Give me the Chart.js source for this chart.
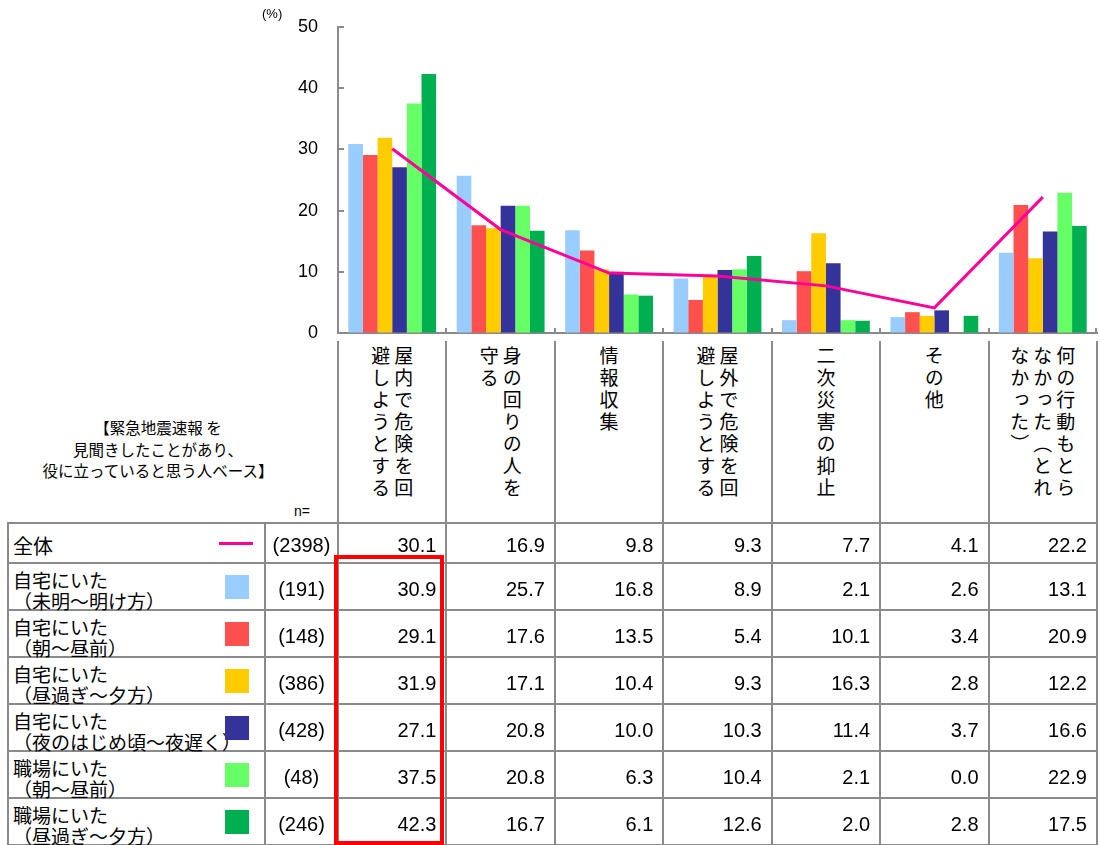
<!DOCTYPE html>
<html><head><meta charset="utf-8">
<script src="https://cdn.jsdelivr.net/npm/chart.js@4.4.0/dist/chart.umd.min.js"></script>
<style>
html,body{margin:0;padding:0;background:#fff;}
body{width:1100px;height:845px;position:relative;overflow:hidden;font-family:"Noto Sans CJK JP",sans-serif;color:#000;}
#wrap{position:absolute;left:0;top:0;width:1100px;height:345px;}
.ln{position:absolute;background:#8a8a8a;}
.vlab{position:absolute;writing-mode:vertical-rl;font-size:19px;line-height:23px;letter-spacing:3px;white-space:nowrap;transform:translateX(-50%);}
.num{position:absolute;font-family:"Liberation Sans",Arial,sans-serif;font-size:20px;line-height:24px;}
.rlab{position:absolute;left:13px;font-size:19px;line-height:21px;white-space:nowrap;}
</style></head><body>
<div id="wrap"><canvas id="c" width="1100" height="345"></canvas></div>
<div id="tbl"></div>
<script>
// ---- data ----
const categories = ['屋内で危険を回避しようとする','身の回りの人を守る','情報収集','屋外で危険を回避しようとする','二次災害の抑止','その他','何の行動もとらなかった（とれなかった）'];
const totalLabel = '全体';
const totalN = 2398;
const totalValues = [30.1,16.9,9.8,9.3,7.7,4.1,22.2];
const seriesLabels = ['自宅にいた（未明～明け方）','自宅にいた（朝～昼前）','自宅にいた（昼過ぎ～夕方）','自宅にいた（夜のはじめ頃～夜遅く）','職場にいた（朝～昼前）','職場にいた（昼過ぎ～夕方）'];
const seriesN = [191,148,386,428,48,246];
const s1 = [30.9,25.7,16.8,8.9,2.1,2.6,13.1];
const s2 = [29.1,17.6,13.5,5.4,10.1,3.4,20.9];
const s3 = [31.9,17.1,10.4,9.3,16.3,2.8,12.2];
const s4 = [27.1,20.8,10.0,10.3,11.4,3.7,16.6];
const s5 = [37.5,20.8,6.3,10.4,2.1,0.0,22.9];
const s6 = [42.3,16.7,6.1,12.6,2.0,2.8,17.5];
const seriesValues = [s1,s2,s3,s4,s5,s6];
const yTicks = [0,10,20,30,40,50];
const headerNote = ['【緊急地震速報 を','見聞きしたことがあり、','役に立っていると思う人ベース】'];

// ---- styles ----
const seriesColors = ['#99CCFF','#FF5050','#FFCC00','#333399','#66FF66','#00B050'];
const lineColor = '#FF0099';
const gray = '#8a8a8a';
const targetTop = 27, targetBottom = 333;

const innerTicks = {
  id:'innerTicks',
  afterDraw(chart){
    const {ctx, chartArea:a, scales:{x,y}} = chart;
    ctx.save(); ctx.strokeStyle=gray; ctx.lineWidth=2; ctx.beginPath();
    yTicks.forEach(v=>{const py=Math.round(y.getPixelForValue(v)); ctx.moveTo(a.left,py); ctx.lineTo(a.left+6,py);});
    const n=categories.length;
    for(let i=1;i<=n;i++){
      const px = i<n ? (x.getPixelForValue(i-1)+x.getPixelForValue(i))/2 : a.right-1;
      ctx.moveTo(Math.round(px),a.bottom); ctx.lineTo(Math.round(px),a.bottom-5);
    }
    ctx.stroke(); ctx.restore();
  }
};

const datasets = [{type:'line',label:totalLabel,data:totalValues,borderColor:lineColor,borderWidth:3,pointRadius:0,fill:false,tension:0}];
seriesLabels.forEach((l,i)=>datasets.push({type:'bar',label:l,data:seriesValues[i],backgroundColor:seriesColors[i],borderWidth:0,categoryPercentage:0.81,barPercentage:1.0}));

const pad = {top:targetTop,right:3,left:0,bottom:0};
const chart = new Chart(document.getElementById('c'),{
  data:{labels:categories,datasets},
  options:{
    responsive:false,animation:false,events:[],
    layout:{padding:pad},
    plugins:{legend:{display:false},tooltip:{enabled:false}},
    scales:{
      x:{type:'category',grid:{display:false,drawTicks:false},border:{display:true,color:gray,width:2},ticks:{display:false},afterFit(s){s.height=12;}},
      y:{min:0,max:50,afterBuildTicks(s){s.ticks=yTicks.map(v=>({value:v}));},
         ticks:{padding:0,color:'#000',font:{family:'"Liberation Sans", Arial, sans-serif',size:18}},
         grid:{display:true,drawOnChartArea:false,drawTicks:true,tickLength:20,color:'rgba(0,0,0,0)'},
         border:{display:true,color:gray,width:2},afterFit(s){s.width=338;}}
    }
  },
  plugins:[innerTicks]
});
for(let k=0;k<3;k++){
  const a=chart.chartArea;
  const dt=targetTop-a.top, db=a.bottom-targetBottom;
  if(Math.abs(dt)<0.5 && Math.abs(db)<0.5) break;
  pad.top+=dt; pad.bottom+=db;
  chart.options.layout.padding={...pad};
  chart.update('none');
}

// ---- table below the chart, aligned to the chart's x scale ----
const tbl = document.getElementById('tbl');
const area = chart.chartArea, xs = chart.scales.x;
const n = categories.length;
const bounds=[area.left];
for(let i=1;i<n;i++) bounds.push((xs.getPixelForValue(i-1)+xs.getPixelForValue(i))/2);
bounds.push(area.right);
const rowTops=[523,563,610,657,704,751,798,845];
const leftX=8, nX=265, headTop=341;
function el(tag,cls,style,html){const e=document.createElement(tag);if(cls)e.className=cls;Object.assign(e.style,style);if(html!==undefined)e.innerHTML=html;tbl.appendChild(e);return e;}
function hline(y,x1,x2){el('div','ln',{left:x1-1+'px',top:y-1+'px',width:(x2-x1+2)+'px',height:'2px'});}
function vline(x,y1,y2){el('div','ln',{left:Math.round(x)-1+'px',top:y1+'px',width:'2px',height:(y2-y1)+'px'});}

rowTops.forEach(y=>hline(y,leftX,bounds[n]));
vline(leftX,rowTops[0],845); vline(nX,rowTops[0],845);
bounds.forEach(b=>vline(b,headTop,845));

el('div','',{position:'absolute',left:'262px',top:'6px',fontSize:'13px',fontFamily:'"Liberation Sans",Arial,sans-serif'},'(%)');
el('div','',{position:'absolute',left:'38px',width:'240px',top:'417px',fontSize:'15.5px',lineHeight:'21.5px',textAlign:'center',whiteSpace:'nowrap'},headerNote.join('<br>'));
el('div','',{position:'absolute',left:'294px',top:'503px',fontSize:'14px',fontFamily:'"Liberation Sans",Arial,sans-serif'},'n=');

categories.forEach((c,i)=>{
  const parts=[]; const chars=Array.from(c);
  for(let k=0;k<chars.length;k+=7) parts.push(chars.slice(k,k+7).join(''));
  el('div','vlab',{left:((bounds[i]+bounds[i+1])/2)+'px',top:'346px'},parts.join('<br>'));
});

const allLabels=[totalLabel].concat(seriesLabels);
const allN=[totalN].concat(seriesN);
const allVals=[totalValues].concat(seriesValues);
allLabels.forEach((lab,r)=>{
  const t=rowTops[r], b=rowTops[r+1], h=b-t, cy=t+h/2;
  if(r===0){
    el('div','rlab',{top:(cy-8)+'px',fontSize:'20px'},lab);
    el('div','',{position:'absolute',left:'219px',top:(cy-1.5)+'px',width:'34px',height:'3px',background:lineColor});
  } else {
    el('div','rlab',{top:(t+6)+'px'},lab.replace('（','<br>（'));
    el('div','',{position:'absolute',left:'225px',top:(cy-12)+'px',width:'24px',height:'24px',background:seriesColors[r-1]});
  }
  el('div','num',{left:nX+'px',width:(bounds[0]-nX)+'px',textAlign:'center',top:(cy-10)+'px'},'('+allN[r]+')');
  allVals[r].forEach((v,i)=>{
    el('div','num',{left:bounds[i]+'px',width:(bounds[i+1]-bounds[i]-10)+'px',textAlign:'right',top:(cy-10)+'px'},v.toFixed(1));
  });
});
el('div','',{position:'absolute',left:'334px',top:'555px',width:'110px',height:'290px',border:'4px solid #FF0000',boxSizing:'border-box'});
</script></body></html>
